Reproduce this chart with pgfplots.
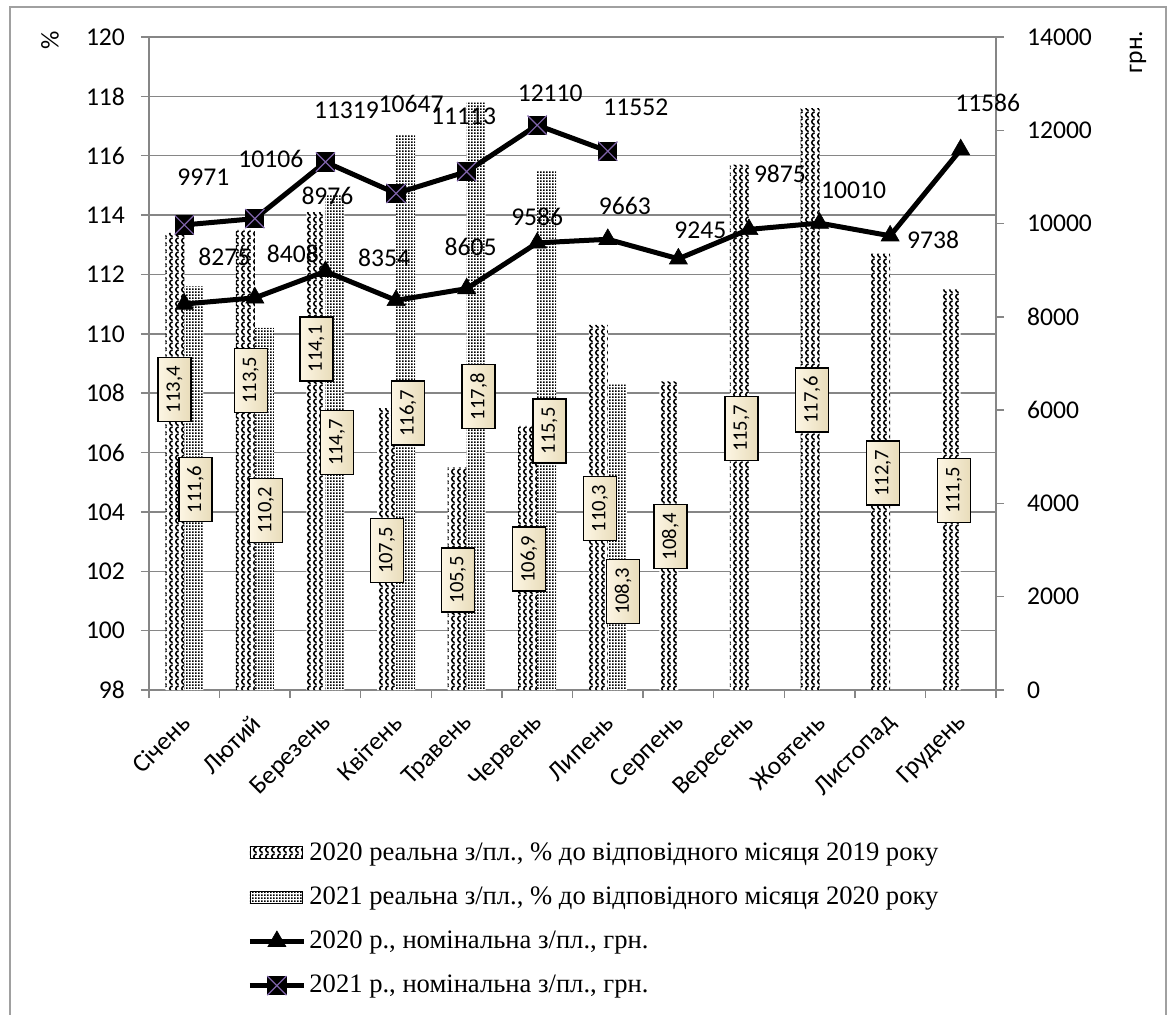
\documentclass[border=0pt]{standalone}
\usepackage{fontspec}
\setmainfont{Liberation Serif}
\newfontfamily\calibri{Carlito}
\usepackage{pgfplots}
\usepackage{pgfplotstable}
\pgfplotsset{compat=1.18}
\usetikzlibrary{patterns}

\definecolor{gridgray}{RGB}{134,134,134}
\definecolor{framegray}{RGB}{160,160,160}
\definecolor{xpurple}{RGB}{128,100,170}
\definecolor{boxlight}{RGB}{253,246,228}
\definecolor{boxdark}{RGB}{232,220,186}

% wavy fill for the 2020 bars
\pgfdeclarepatternformonly{salarywave}{\pgfqpoint{-0.5pt}{-0.5pt}}{\pgfqpoint{3.5pt}{4pt}}{\pgfqpoint{3pt}{3.5pt}}{%
  \pgfsetlinewidth{0.75pt}%
  \pgfpathmoveto{\pgfqpoint{2.3pt}{0.2pt}}%
  \pgfpathcurveto{\pgfqpoint{0.4pt}{0.9pt}}{\pgfqpoint{0.4pt}{2.4pt}}{\pgfqpoint{2.3pt}{3.1pt}}%
  \pgfusepath{stroke}}
% fine dots for the 2021 bars
\pgfdeclarepatternformonly{salarydots}{\pgfqpoint{0pt}{0pt}}{\pgfqpoint{1.5pt}{1.25pt}}{\pgfqpoint{1.5pt}{1.25pt}}{%
  \pgfpathrectangle{\pgfqpoint{0.1pt}{0.1pt}}{\pgfqpoint{0.9pt}{0.8pt}}%
  \pgfusepath{fill}}
% black square with a purple cross
\pgfdeclareplotmark{boxcross}{%
  \pgfpathrectangle{\pgfqpoint{-\pgfplotmarksize}{-\pgfplotmarksize}}{\pgfqpoint{2\pgfplotmarksize}{2\pgfplotmarksize}}%
  \pgfsetfillcolor{black}%
  \pgfusepath{fill}%
  \pgfsetstrokecolor{xpurple}%
  \pgfsetlinewidth{0.6pt}%
  \pgfpathmoveto{\pgfqpoint{-\pgfplotmarksize}{-\pgfplotmarksize}}%
  \pgfpathlineto{\pgfqpoint{\pgfplotmarksize}{\pgfplotmarksize}}%
  \pgfpathmoveto{\pgfqpoint{-\pgfplotmarksize}{\pgfplotmarksize}}%
  \pgfpathlineto{\pgfqpoint{\pgfplotmarksize}{-\pgfplotmarksize}}%
  \pgfusepath{stroke}}

\pgfplotsset{/pgf/number format/assume math mode=true}

% real wage index, %: month, label x, label y, value
\pgfplotstableread{
m lx ly v
0 -0.139 108.12 113.4
1 0.942 108.43 113.5
2 1.873 109.49 114.1
3 2.872 102.70 107.5
4 3.878 101.71 105.5
5 4.884 102.41 106.9
6 5.890 104.11 110.3
7 6.888 103.17 108.4
8 7.894 106.81 115.7
9 8.893 107.77 117.6
10 9.899 105.31 112.7
11 10.905 104.72 111.5
}\realA
\pgfplotstableread{
m lx ly v
0 0.159 104.75 111.6
1 1.158 104.05 110.2
2 2.164 106.34 114.7
3 3.169 107.33 116.7
4 4.171 107.88 117.8
5 5.174 106.73 115.5
6 6.216 101.32 108.3
}\realB
% nominal wage, UAH: month, value, label offset (pt)
\pgfplotstableread{
m w dx dy
0 8275 20 23.5
1 8408 19 22
2 8976 1 37.5
3 8354 -6 21.5
4 8605 2 21
5 9586 0 13
6 9663 8.5 16.5
7 9245 11 14.5
8 9875 15.5 28
9 10010 17 16.5
10 9738 21.5 -2
11 11586 13.5 23.5
}\nomA
\pgfplotstableread{
m w dx dy
0 9971 9.5 24
1 10106 8 30
2 11319 10.5 26
3 10647 7.5 44.5
4 11113 -1.5 27.5
5 12110 6.5 16
6 11552 14 22
}\nomB

\newcommand{\tickfont}{\calibri\fontsize{12.8}{15}\selectfont}

\begin{document}
\begin{tikzpicture}
\path[use as bounding box] (-74.5pt,-162pt) rectangle (509.5pt,345pt);
\draw[framegray, line width=0.8pt] (-69.5pt,-170pt) rectangle (508.5pt,341.5pt);

\begin{axis}[
  scale only axis, width=423.5pt, height=326.5pt,
  xmin=-0.5, xmax=11.5, ymin=98, ymax=120,
  axis x line*=bottom, axis y line*=left,
  axis line style={gridgray, line width=0.75pt},
  ytick={98,100,...,120},
  ymajorgrids, grid style={gridgray, line width=0.75pt},
  xtick={0,...,11},
  xticklabels={Січень, Лютий, Березень, Квітень, Травень, Червень, Липень, Серпень, Вересень, Жовтень, Листопад, Грудень},
  major x tick style={draw=none},
  minor xtick={-0.5,0.5,...,11.5},
  tick align=outside, major tick length=4pt, minor tick length=4pt,
  tick style={gridgray, line width=0.75pt},
  ticklabel style={font=\tickfont},
  xticklabel style={xshift=1pt, yshift=-10.5pt, rotate=45, anchor=east, inner sep=0pt},
  yticklabel style={anchor=east, xshift=-4.5pt},
  ylabel={\%},
  every axis y label/.style={at={(axis description cs:-0.1169,0.9954)}, rotate=90, anchor=center, font=\tickfont},
]
\addplot[ybar, bar width=9.5pt, bar shift=-4.75pt, draw=none, fill=white, postaction={pattern=salarywave}]
  table[x=m, y=v] {\realA};
\addplot[ybar, bar width=9.5pt, bar shift=4.75pt, draw=none, fill=white, postaction={pattern=salarydots}]
  table[x=m, y=v] {\realB};
% value boxes
\pgfplotsset{
  boxlabels/.style={only marks, mark=none, point meta=explicit,
    nodes near coords={\pgfmathprintnumber[fixed, fixed zerofill, precision=1, use comma]{\pgfplotspointmeta}},
    every node near coord/.append style={rotate=90, anchor=center, draw=black, line width=0.7pt,
      inner sep=0pt, minimum width=32pt, minimum height=16.5pt,
      left color=boxlight, right color=boxdark, font=\calibri\fontsize{10.3}{12}\selectfont}}}
\addplot[boxlabels] table[x=lx, y=ly, meta=v] {\realA};
\addplot[boxlabels] table[x=lx, y=ly, meta=v] {\realB};
\end{axis}

\begin{axis}[
  scale only axis, width=423.5pt, height=326.5pt,
  xmin=-0.5, xmax=11.5, ymin=0, ymax=14000,
  axis x line=none, axis y line*=right,
  axis line style={gridgray, line width=0.75pt},
  ytick={0,2000,...,14000}, scaled y ticks=false,
  tick align=outside, major tick length=4pt,
  tick style={gridgray, line width=0.75pt},
  ticklabel style={font=\tickfont},
  yticklabel style={anchor=west, xshift=8pt},
  /pgf/number format/1000 sep={},
  ylabel={грн.},
  every axis y label/.style={at={(axis description cs:1.1677,0.977)}, rotate=90, anchor=center, font=\tickfont},
  clip=false,
  legend cell align=left,
  legend image code/.code={\draw[mark repeat=2, mark phase=2, #1] plot coordinates {(0pt,0pt) (13.5pt,0pt) (27pt,0pt)};},
  legend style={draw=none, fill=none, at={(0.1157,-0.2282)}, anchor=north west,
    font=\fontsize{13.3}{15}\selectfont, row sep=8.8pt, inner sep=0pt, nodes={inner sep=1.5pt}},
  nomline/.style={black, line width=2.5pt,
    visualization depends on={\thisrow{dx} \as \ldx},
    visualization depends on={\thisrow{dy} \as \ldy},
    nodes near coords, point meta=explicit,
    every node near coord/.append style={anchor=center, xshift=\ldx pt, yshift=\ldy pt, font=\tickfont, inner sep=0pt}},
]
\addlegendimage{legend image code/.code={\draw[fill=white, postaction={pattern=salarywave}, draw=none] (0pt,-3pt) rectangle (26pt,3pt);}}
\addlegendentry{2020 реальна з/пл., \% до відповідного місяця 2019 року}
\addlegendimage{legend image code/.code={\draw[fill=white, postaction={pattern=salarydots}, draw=none] (0pt,-3pt) rectangle (26pt,3pt);}}
\addlegendentry{2021 реальна з/пл., \% до відповідного місяця 2020 року}
\addplot[nomline, mark=triangle*, mark size=5.2pt, mark options={line width=0.3pt, fill=black}]
  table[x=m, y=w, meta=w] {\nomA};
\addlegendentry{2020 р., номінальна з/пл., грн.}
\addplot[nomline, mark=boxcross, mark size=4.8pt]
  table[x=m, y=w, meta=w] {\nomB};
\addlegendentry{2021 р., номінальна з/пл., грн.}
\end{axis}
\end{tikzpicture}
\end{document}
